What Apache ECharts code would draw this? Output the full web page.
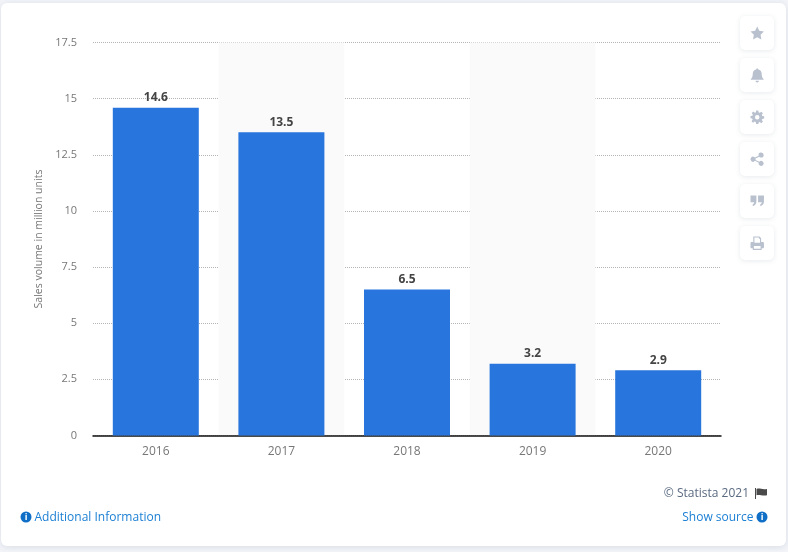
<!DOCTYPE html>
<html>
<head>
<meta charset="utf-8">
<style>
  html, body { margin: 0; padding: 0; background: #f2f4f8; }
  #chart { width: 788px; height: 552px; }
</style>
</head>
<body>
<div id="chart"></div>
<script src="https://cdn.jsdelivr.net/npm/echarts@6/dist/echarts.min.js"></script>
<script>
const years = ['2016', '2017', '2018', '2019', '2020']
const salesVolume = [14.6, 13.5, 6.5, 3.2, 2.9]
const axisTitle = 'Sales volume in million units'
const font = '"Open Sans", sans-serif'

// side buttons: top y of each one and the icon drawn in it
const buttonTops = [16, 58, 100, 142, 184, 226]
const buttonIcons = [
  'M12 0l3.7 7.6 8.3 1.2-6 5.9 1.4 8.3-7.4-3.9-7.4 3.9 1.4-8.3-6-5.9 8.3-1.2z',
  'M12 0c1.2 0 2 .9 2 2 4 .8 6 4 6 8 0 5 1.5 7 3.5 9v1H.5v-1c2-2 3.5-4 3.5-9 0-4 2-7.2 6-8 0-1.1.8-2 2-2zM9 22h6c0 1.7-1.3 3-3 3s-3-1.3-3-3z',
  'M10 0h4l.6 3.4 2 .8 2.8-2 2.8 2.8-2 2.8.8 2 3.4.6v4l-3.4.6-.8 2 2 2.8-2.8 2.8-2.8-2-2 .8L14 24h-4l-.6-3.4-2-.8-2.8 2-2.8-2.8 2-2.8-.8-2L0 14v-4l3.4-.6.8-2-2-2.8 2.8-2.8 2.8 2 2-.8zM12 8a4 4 0 1 0 0 8 4 4 0 0 0 0-8z',
  'M19 0a4.5 4.5 0 1 1-3.4 7.4L9 10.8a4.6 4.6 0 0 1 0 2.4l6.6 3.4A4.5 4.5 0 1 1 14.5 19.5c0-.4 0-.8.1-1.2L8 14.9a4.5 4.5 0 1 1 0-5.8l6.6-3.4A4.5 4.5 0 0 1 19 0z',
  'M0 2h10.5v11c0 4-2.5 7-6.5 8v-3.5c1.6-.6 2.5-1.8 2.5-3.5H0zM13.5 2H24v11c0 4-2.5 7-6.5 8v-3.5c1.6-.6 2.5-1.8 2.5-3.5h-6.5z',
  'M5 0h11l3 3v7h3c1.1 0 2 .9 2 2v7c0 1.1-.9 2-2 2h-2v3H4v-3H2c-1.1 0-2-.9-2-2v-7c0-1.1.9-2 2-2h3zM7 2v9h10V4h-2V2zM6 17v5h12v-5z'
]
const flagIcon = 'M0 0h2v24H0zM3 2c6-3 10 2 21 0v14c-11 2-15-3-21 0z'

// the graphic component only knows registered shape names
buttonIcons.forEach((d, i) => {
  echarts.graphic.registerShape('icon' + i, echarts.graphic.extendPath(d))
})
echarts.graphic.registerShape('flagIcon', echarts.graphic.extendPath(flagIcon))

const graphics = [
  {
    type: 'rect', z: -10, silent: true,
    shape: { x: 1, y: 3, width: 785, height: 543, r: 6 },
    style: { fill: '#fff', shadowBlur: 6, shadowColor: 'rgba(90,105,130,0.16)', shadowOffsetY: 1 }
  }
]

buttonTops.forEach((top, i) => {
  graphics.push({
    type: 'rect', silent: true,
    shape: { x: 740, y: top, width: 34, height: 34, r: 5 },
    style: { fill: '#fff', shadowBlur: 5, shadowColor: 'rgba(90,105,130,0.14)', shadowOffsetY: 1 }
  })
  graphics.push({
    type: 'icon' + i, silent: true,
    x: 750.5, y: top + 10.5, scaleX: 0.56, scaleY: 0.56,
    style: { fill: '#b9c1cf' }
  })
})

function infoIcon(cx, cy) {
  return [
    { type: 'circle', silent: true, shape: { cx: cx, cy: cy, r: 5.5 }, style: { fill: '#0f6fc6' } },
    {
      type: 'text', silent: true, x: cx, y: cy + 0.5,
      style: { text: 'i', fill: '#fff', font: 'bold 9px "Open Sans", sans-serif', align: 'center', verticalAlign: 'middle' }
    }
  ]
}

graphics.push(...infoIcon(26, 517), ...infoIcon(762, 517))
graphics.push(
  {
    type: 'text', silent: true, x: 34.5, y: 518,
    style: { text: 'Additional Information', fill: '#1b7fd4', font: '12px ' + font, verticalAlign: 'middle' }
  },
  {
    type: 'text', silent: true, x: 753.5, y: 518,
    style: { text: 'Show source', fill: '#1b7fd4', font: '12px ' + font, align: 'right', verticalAlign: 'middle' }
  },
  {
    type: 'text', silent: true, x: 749, y: 494,
    style: { text: '© Statista 2021', fill: '#5a6a80', font: '12px ' + font, align: 'right', verticalAlign: 'middle' }
  },
  {
    type: 'flagIcon', silent: true,
    x: 755, y: 488, scaleX: 0.5, scaleY: 0.46,
    style: { fill: '#4a4a4a' }
  }
)

const chart = echarts.init(document.getElementById('chart'))
chart.setOption({
  animation: false,
  backgroundColor: 'transparent',
  graphic: graphics,
  grid: { left: 93, right: 67, top: 42.5, bottom: 116.5 },
  xAxis: {
    type: 'category',
    data: years,
    axisTick: { show: false },
    axisLine: { lineStyle: { color: '#111', width: 1.5 } },
    axisLabel: { color: '#777', fontFamily: font, fontSize: 12, margin: 10 },
    splitArea: { show: true, areaStyle: { color: ['rgba(0,0,0,0)', '#fafafa'] } }
  },
  yAxis: {
    type: 'value',
    min: 0,
    max: 17.5,
    interval: 2.5,
    name: axisTitle,
    nameLocation: 'middle',
    nameGap: 46,
    nameTextStyle: { color: '#777', fontFamily: font, fontSize: 10.5 },
    axisLine: { show: false },
    axisTick: { show: false },
    axisLabel: { color: '#777', fontFamily: font, fontSize: 11, margin: 16, padding: [3, 0, 0, 0] },
    splitLine: { lineStyle: { color: '#b4b4b4', type: [1, 1], width: 1 } }
  },
  series: [
    {
      type: 'bar',
      data: salesVolume,
      barWidth: 86,
      itemStyle: { color: '#2876dd' },
      label: {
        show: true,
        position: 'top',
        distance: 4,
        color: '#444',
        fontFamily: font,
        fontWeight: 'bold',
        fontSize: 12
      }
    }
  ]
})
</script>
</body>
</html>
